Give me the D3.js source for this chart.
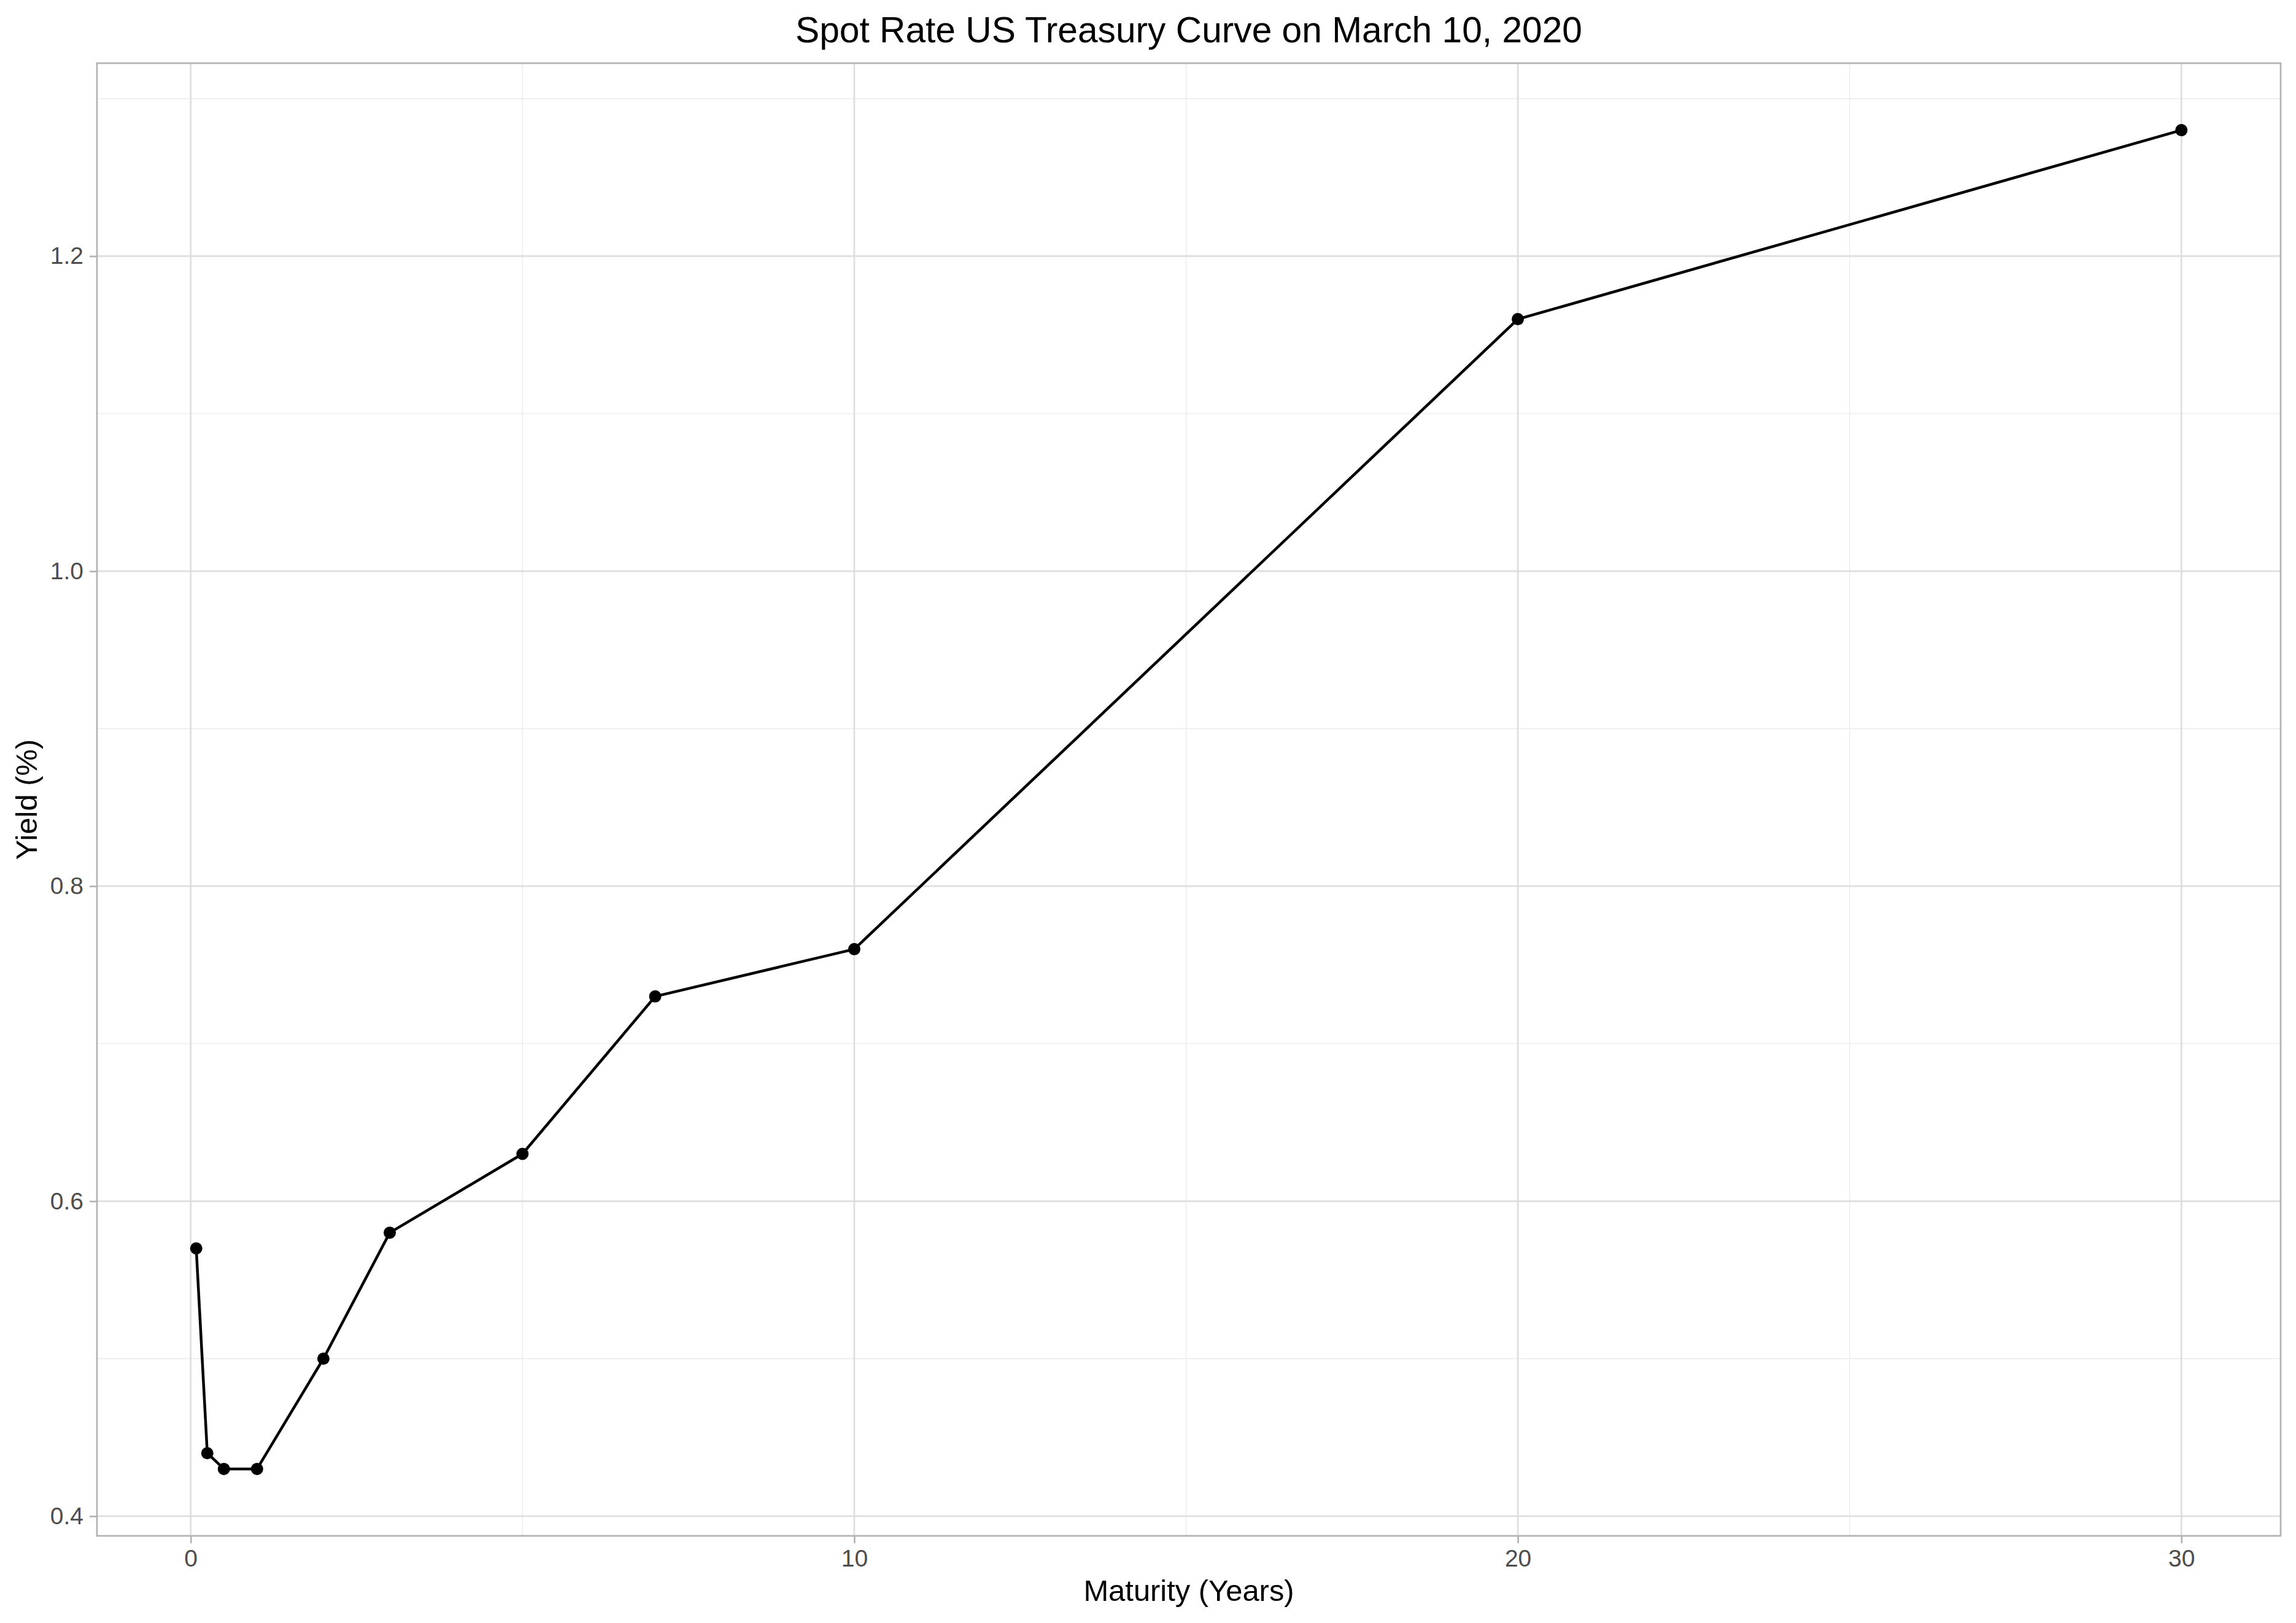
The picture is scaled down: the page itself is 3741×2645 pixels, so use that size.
<!DOCTYPE html>
<html>
<head>
<meta charset="utf-8">
<script src="https://cdn.jsdelivr.net/npm/d3@7"></script>
<style>
  html, body { margin: 0; padding: 0; background: #fff; }
  svg { display: block; font-family: "Liberation Sans", Arial, sans-serif; }
</style>
</head>
<body>
<svg id="chart"></svg>
<script>
// maturities in years, yields in percent
const maturities = [1/12, 0.25, 0.5, 1, 2, 3, 5, 7, 10, 20, 30];
const yields = [0.57, 0.44, 0.43, 0.43, 0.50, 0.58, 0.63, 0.73, 0.76, 1.16, 1.28];
const xTicks = [0, 10, 20, 30];
const xMinor = [5, 15, 25];
const yTicks = [0.4, 0.6, 0.8, 1.0, 1.2];
const yMinor = [0.5, 0.7, 0.9, 1.1, 1.3];

const W = 3741, H = 2645;
const m = { top: 103, right: W - 3716, bottom: H - 2503, left: 158 };
const cW = W - m.left - m.right;
const cH = H - m.top - m.bottom;

const data = maturities.map((x, i) => ({ x, y: yields[i] }));

const svg = d3.select('#chart').attr('width', W).attr('height', H);
svg.append('rect').attr('width', W).attr('height', H).attr('fill', '#fff');

// ggplot style 5% expansion
const xr = d3.extent(maturities), yr = d3.extent(yields);
const xPad = (xr[1] - xr[0]) * 0.05, yPad = (yr[1] - yr[0]) * 0.05;
const xScale = d3.scaleLinear().domain([xr[0] - xPad, xr[1] + xPad]).range([0, cW]);
const yScale = d3.scaleLinear().domain([yr[0] - yPad, yr[1] + yPad]).range([cH, 0]);

const g = svg.append('g').attr('transform', `translate(${m.left},${m.top})`);

// grid
const grid = g.append('g');
yMinor.filter(t => t <= yScale.domain()[1]).forEach(t => {
  grid.append('line').attr('x1', 0).attr('x2', cW).attr('y1', yScale(t)).attr('y2', yScale(t))
    .attr('stroke', '#ebebeb').attr('stroke-width', 1.4);
});
xMinor.forEach(t => {
  grid.append('line').attr('x1', xScale(t)).attr('x2', xScale(t)).attr('y1', 0).attr('y2', cH)
    .attr('stroke', '#ebebeb').attr('stroke-width', 1.4);
});
yTicks.forEach(t => {
  grid.append('line').attr('x1', 0).attr('x2', cW).attr('y1', yScale(t)).attr('y2', yScale(t))
    .attr('stroke', '#dedede').attr('stroke-width', 2.7);
});
xTicks.forEach(t => {
  grid.append('line').attr('x1', xScale(t)).attr('x2', xScale(t)).attr('y1', 0).attr('y2', cH)
    .attr('stroke', '#dedede').attr('stroke-width', 2.7);
});

// axes
const xAxis = g.append('g').attr('transform', `translate(0,${cH})`)
  .call(d3.axisBottom(xScale).tickValues(xTicks).tickFormat(d3.format('d')).tickSize(12).tickPadding(10));
const yAxis = g.append('g')
  .call(d3.axisLeft(yScale).tickValues(yTicks).tickFormat(d3.format('.1f')).tickSize(12).tickPadding(10));
[xAxis, yAxis].forEach(a => {
  a.select('.domain').remove();
  a.selectAll('.tick line').attr('stroke', '#b3b3b3').attr('stroke-width', 2.7);
  a.selectAll('text').attr('fill', '#4d4d4d').style('font-size', '39px')
    .style('font-family', '"Liberation Sans", Arial, sans-serif');
});
xAxis.selectAll('text').attr('dy', '0.72em');

// panel border
g.append('rect').attr('width', cW).attr('height', cH)
  .attr('fill', 'none').attr('stroke', '#b3b3b3').attr('stroke-width', 2.7);

// line + points
const line = d3.line().x(d => xScale(d.x)).y(d => yScale(d.y));
g.append('path').datum(data).attr('d', line)
  .attr('fill', 'none').attr('stroke', '#000').attr('stroke-width', 4.5).attr('stroke-linejoin', 'round');
g.selectAll('circle').data(data).enter().append('circle')
  .attr('cx', d => xScale(d.x)).attr('cy', d => yScale(d.y)).attr('r', 10).attr('fill', '#000');

// titles
svg.append('text').attr('x', m.left + cW / 2).attr('y', 69).attr('text-anchor', 'middle')
  .style('font-size', '58.7px').attr('fill', '#000').text('Spot Rate US Treasury Curve on March 10, 2020');
svg.append('text').attr('x', m.left + cW / 2).attr('y', 2609).attr('text-anchor', 'middle')
  .style('font-size', '48.9px').attr('fill', '#000').text('Maturity (Years)');
svg.append('text').attr('transform', `translate(60,${m.top + cH / 2}) rotate(-90)`).attr('text-anchor', 'middle')
  .style('font-size', '48.9px').attr('fill', '#000').text('Yield (%)');
</script>
</body>
</html>
